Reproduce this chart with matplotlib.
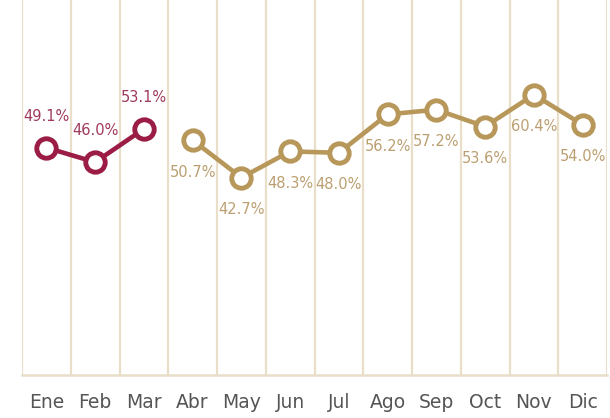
import matplotlib
matplotlib.use("Agg")
import matplotlib.pyplot as plt
import numpy as np

months = ["Ene", "Feb", "Mar", "Abr", "May", "Jun", "Jul", "Ago", "Sep", "Oct", "Nov", "Dic"]
series_a = [49.1, 46.0, 53.1]
series_b = [50.7, 42.7, 48.3, 48.0, 56.2, 57.2, 53.6, 60.4, 54.0]
label_pos_a = ["above", "above", "above"]
label_pos_b = ["below"] * 9

maroon = "#9B1D45"
maroon_txt = "#A03A5A"
gold = "#B8975A"
gold_txt = "#BC9F70"
grid_c = "#E9DFC9"

fig = plt.figure(figsize=(6.1, 4.18), dpi=100)
ax = fig.add_axes([22/610, (418-375)/418, (607-22)/610, 375/418])

x_a = np.arange(len(series_a))
x_b = np.arange(len(series_a), len(months))

for xs, ys, c, tc, pos in [(x_a, series_a, maroon, maroon_txt, label_pos_a),
                            (x_b, series_b, gold, gold_txt, label_pos_b)]:
    ax.plot(xs, ys, color=c, lw=3.3, marker="o", ms=14, mew=3.5,
            mfc="white", mec=c, zorder=3, solid_capstyle="round")
    for xi, yi, p in zip(xs, ys, pos):
        off = 22.5 if p == "above" else -23
        ax.annotate(f"{yi:.1f}%", (xi, yi), xytext=(0, off), textcoords="offset points",
                    ha="center", va="center", color=tc, fontsize=10.5, family="DejaVu Sans")

ax.set_xlim(-0.5, len(months) - 0.5)
ax.set_ylim(0.6, 80.6)
for gx in np.arange(-0.5, len(months), 1.0):
    ax.axvline(gx, color=grid_c, lw=1.6, zorder=0)
for s in ["top", "left", "right"]:
    ax.spines[s].set_visible(False)
ax.spines["bottom"].set_color(grid_c)
ax.spines["bottom"].set_linewidth(1.8)
ax.set_yticks([])
ax.set_xticks(np.arange(len(months)))
ax.set_xticklabels(months, fontsize=13.5, color="#555555")
ax.tick_params(axis="x", length=0, pad=13)

fig.savefig("out.png", dpi=100)
